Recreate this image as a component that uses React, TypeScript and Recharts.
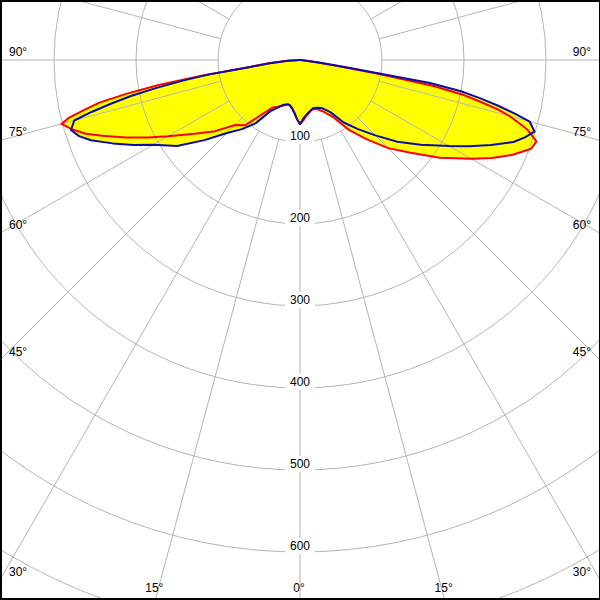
import { RadarChart, Radar, PolarGrid, PolarAngleAxis, PolarRadiusAxis } from "recharts";

// gamma (deg from nadir) sampled finer around the lobe at ~70–85°; 180 = zenith (no light upward)
const gammaSteps = [0, 3, 6, 9, 12, 15, 20, 25, 30, 35, 40, 45, 50, 55, 60, 63, 66, 69, 71, 73, 75, 76, 77, 78, 79, 80, 81, 82, 84, 86, 88, 180];

// left half of the diagram (C180 side)
const redLeft = [78, 72, 65, 60, 57, 56, 59, 63, 67, 81, 104, 112, 135, 157, 186, 208, 232, 258, 276, 290, 301, 290, 270, 250, 215, 175, 120, 65, 38, 15, 5, 0];
const blueLeft = [78, 72, 65, 60, 57, 56, 58, 64, 72, 94, 110, 126, 152, 183, 207, 228, 250, 273, 285, 292, 285, 262, 236, 210, 178, 145, 112, 63, 37, 15, 5, 0];
const fillLeft = [78, 72, 65, 60, 57, 56, 59, 64, 72, 94, 110, 126, 152, 183, 207, 228, 250, 273, 285, 292, 301, 290, 270, 250, 215, 175, 120, 65, 38, 15, 5, 0];

// right half (C0 side)
const redRight = [78, 74, 69, 66, 63, 62, 64, 70, 80, 104, 126, 152, 176, 208, 241, 263, 284, 302, 305, 290, 265, 248, 225, 202, 165, 95, 45, 20, 8, 3, 1, 0];
const blueRight = [78, 72, 68, 65, 63, 61, 62, 65, 73, 93, 110, 130, 155, 180, 210, 232, 255, 279, 290, 299, 290, 270, 248, 225, 200, 161, 60, 25, 8, 3, 1, 0];
const fillRight = [78, 74, 69, 66, 63, 62, 64, 70, 80, 104, 126, 152, 176, 208, 241, 263, 284, 302, 305, 299, 290, 270, 248, 225, 200, 161, 60, 25, 8, 3, 1, 0];

const radiusTicks = [100, 200, 300, 400, 500, 600, 700, 800];
const angleTicks = [0, 15, 30, 45, 60, 75, 90, 105, 120, 135, 150, 165, 180, 195, 210, 225, 240, 255, 270, 285, 300, 315, 330, 345];

// angle = position clockwise from nadir, 0..360 (left half first, then right half back to 360)
const data: { angle: number; red: number; blue: number; fill: number }[] = [];
gammaSteps.forEach((g, i) => {
  data.push({ angle: g, red: redLeft[i], blue: blueLeft[i], fill: fillLeft[i] });
});
for (let i = gammaSteps.length - 2; i >= 1; i--) {
  data.push({ angle: 360 - gammaSteps[i], red: redRight[i], blue: blueRight[i], fill: fillRight[i] });
}

const W = 600;
const H = 600;
const CX = 300;
const CY = 60;
// 100 cd/klm per 82px; radial lines start at the 100 ring, so the scale runs 100..800
const INNER = 82;
const OUTER = 82 * 8;
const FONT = "'Liberation Sans', Arial, sans-serif";

function renderAngleTick(props: any) {
  const { x, y, payload } = props;
  const p = payload.value;
  const gamma = p <= 180 ? p : 360 - p;
  if (gamma > 90) return <g />;
  const dx = x - CX;
  const dy = y - CY;
  let t = Infinity;
  if (dx > 1e-6) t = Math.min(t, (W - CX) / dx);
  if (dx < -1e-6) t = Math.min(t, -CX / dx);
  if (dy > 1e-6) t = Math.min(t, (H - CY) / dy);
  const ex = CX + dx * t;
  const ey = CY + dy * t;
  let tx = ex - 1;
  let ty = H - 8;
  let anchor: "start" | "end" | "middle" = "middle";
  if (ex <= 0.5) {
    tx = 9;
    ty = ey - 4;
    anchor = "start";
  } else if (ex >= W - 0.5) {
    tx = W - 9;
    ty = ey - 4;
    anchor = "end";
  }
  return (
    <text x={tx} y={ty} textAnchor={anchor} fontSize={12} fontFamily={FONT} fill="#000">
      {gamma}°
    </text>
  );
}

function renderRadiusTick(props: any) {
  const { x, y, payload } = props;
  // rings beyond the frame get no label
  if (y > H - 20) return <g />;
  return (
    <g>
      <rect x={x - 15} y={y - 14} width={30} height={16} fill="#fff" />
      <text x={x} y={y - 2} textAnchor="middle" fontSize={12} fontFamily={FONT} fill="#000">
        {payload.value}
      </text>
    </g>
  );
}

const chartProps = {
  width: W,
  height: H,
  data,
  cx: CX,
  cy: CY,
  innerRadius: INNER,
  outerRadius: OUTER,
  startAngle: -90,
  endAngle: -450,
  margin: { top: 0, right: 0, bottom: 0, left: 0 },
};

export default function App() {
  return (
    <div style={{ position: "absolute", left: 0, top: 0, width: W, height: H, background: "#fff", overflow: "hidden" }}>
      {/* yellow envelope underneath the grid */}
      <div style={{ position: "absolute", left: 0, top: 0 }}>
        <RadarChart {...chartProps}>
          <PolarAngleAxis dataKey="angle" type="number" domain={[0, 360]} ticks={angleTicks} tick={false} axisLine={false} tickLine={false} />
          <PolarRadiusAxis angle={-90} type="number" domain={[100, 800]} ticks={radiusTicks} allowDataOverflow tick={false} axisLine={false} tickLine={false} />
          <Radar dataKey="fill" fill="#ffff00" fillOpacity={1} stroke="none" dot={false} activeDot={false} isAnimationActive={false} />
        </RadarChart>
      </div>
      {/* grid, labels and the two measured curves on top */}
      <div style={{ position: "absolute", left: 0, top: 0 }}>
        <RadarChart {...chartProps}>
          <PolarGrid gridType="circle" stroke="#b4b4b4" strokeWidth={1} />
          <PolarAngleAxis dataKey="angle" type="number" domain={[0, 360]} ticks={angleTicks} tick={renderAngleTick} axisLine={false} tickLine={false} />
          <PolarRadiusAxis angle={-90} type="number" domain={[100, 800]} ticks={radiusTicks} allowDataOverflow tick={renderRadiusTick} axisLine={false} tickLine={false} />
          <Radar dataKey="red" fill="none" fillOpacity={0} stroke="#ff0000" strokeWidth={2} strokeLinejoin="round" dot={false} activeDot={false} isAnimationActive={false} />
          <Radar dataKey="blue" fill="none" fillOpacity={0} stroke="#0c0ca8" strokeWidth={2} strokeLinejoin="round" dot={false} activeDot={false} isAnimationActive={false} />
        </RadarChart>
      </div>
      <div
        style={{
          position: "absolute",
          left: 0,
          top: 0,
          width: W,
          height: H,
          boxSizing: "border-box",
          borderTop: "2px solid #000",
          borderLeft: "2px solid #000",
          borderBottom: "2px solid #000",
          borderRight: "1px solid #000",
          pointerEvents: "none",
        }}
      />
    </div>
  );
}
